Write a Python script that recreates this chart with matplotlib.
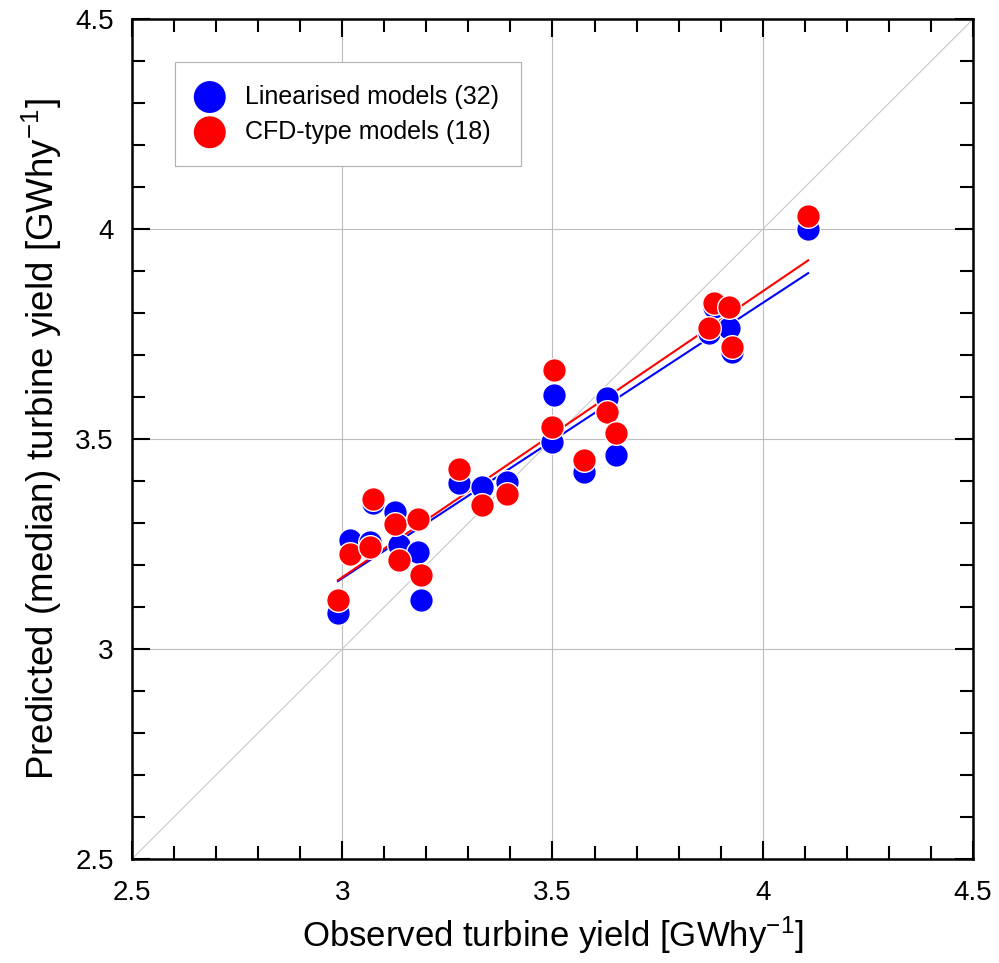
import numpy as np
import matplotlib
matplotlib.use("Agg")
import matplotlib.pyplot as plt
from matplotlib.ticker import MultipleLocator, FuncFormatter

plt.rcParams['font.family'] = ['Liberation Sans', 'DejaVu Sans']
plt.rcParams['mathtext.default'] = 'regular'

# observed yield per turbine, and median predictions of the two model groups
observed = [2.990, 3.019, 3.066, 3.073, 3.126, 3.134, 3.180, 3.187, 3.279, 3.332,
            3.392, 3.500, 3.503, 3.576, 3.629, 3.651, 3.873, 3.884, 3.920, 3.926, 4.108]
linearised = [3.085, 3.260, 3.256, 3.347, 3.327, 3.248, 3.232, 3.117, 3.395, 3.385,
              3.399, 3.494, 3.605, 3.422, 3.597, 3.462, 3.752, 3.815, 3.764, 3.708, 4.000]
cfd = [3.117, 3.226, 3.242, 3.357, 3.298, 3.212, 3.309, 3.176, 3.430, 3.343,
       3.369, 3.530, 3.665, 3.450, 3.565, 3.514, 3.764, 3.825, 3.815, 3.720, 4.031]

lin_label = "Linearised models (32)"
cfd_label = "CFD-type models (18)"

fig = plt.figure(figsize=(9.99, 9.63), dpi=100)
ax = fig.add_axes([0.132, 0.108, 0.842, 0.872])

# 1:1 line
ax.plot([2.5, 4.5], [2.5, 4.5], color='#c8c8c8', lw=0.8, zorder=1)

# linear fits over the observed range
x = np.array(observed)
xs = np.array([x.min(), x.max()])
for vals, col in [(linearised, 'blue'), (cfd, 'red')]:
    k, b = np.polyfit(x, np.array(vals), 1)
    ax.plot(xs, k * xs + b, color=col, lw=1.5, zorder=2)

ax.scatter(observed, linearised, s=290, color='blue', edgecolor='white', lw=1.0,
           zorder=3, label=lin_label)
ax.scatter(observed, cfd, s=290, color='red', edgecolor='white', lw=1.0,
           zorder=4, label=cfd_label)

ax.set_xlim(2.5, 4.5)
ax.set_ylim(2.5, 4.5)
ax.xaxis.set_major_locator(MultipleLocator(0.5))
ax.yaxis.set_major_locator(MultipleLocator(0.5))
ax.xaxis.set_minor_locator(MultipleLocator(0.1))
ax.yaxis.set_minor_locator(MultipleLocator(0.1))
ax.xaxis.set_major_formatter(FuncFormatter(lambda v, p: f"{v:g}"))
ax.yaxis.set_major_formatter(FuncFormatter(lambda v, p: f"{v:g}"))
ax.grid(True, which='major', color='#bdbdbd', lw=0.8, zorder=0)
ax.set_axisbelow(True)

ax.tick_params(which='both', direction='in', top=True, right=True, width=1.5,
               labelsize=20, color='black')
ax.tick_params(which='major', length=13)
ax.tick_params(which='minor', length=9.4)
ax.tick_params(axis='x', which='major', pad=15)
ax.tick_params(axis='y', which='major', pad=13)
for sp in ax.spines.values():
    sp.set_linewidth(1.8)

ax.set_xlabel("Observed turbine yield [GWhy$^{-1}$]", fontsize=25, labelpad=6)
ax.set_ylabel("Predicted (median) turbine yield [GWhy$^{-1}$]", fontsize=26.5, labelpad=8)

leg = ax.legend(loc='upper left', bbox_to_anchor=(0.051, 0.949), fontsize=18,
                fancybox=False, edgecolor='#b0b0b0', framealpha=1, markerscale=1.35,
                borderaxespad=0, borderpad=0.9, handlelength=1.0, handletextpad=0.9,
                labelspacing=0.45)
for h in leg.legend_handles:
    h.set_edgecolor('none')
leg.get_frame().set_linewidth(0.8)

fig.savefig("out.png", dpi=100)
